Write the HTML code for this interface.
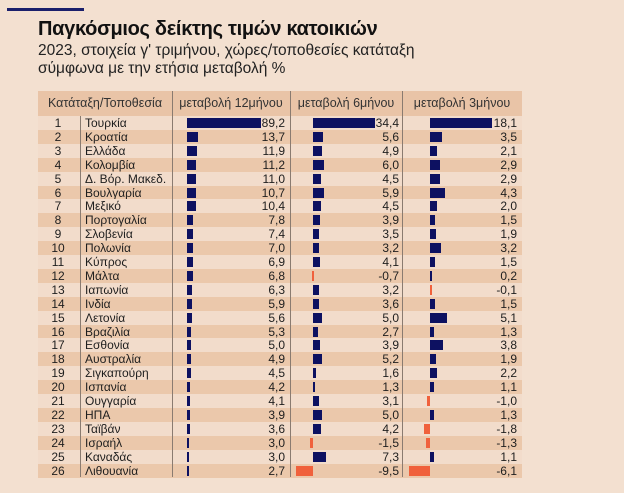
<!DOCTYPE html>
<html><head><meta charset="utf-8">
<style>
html,body{margin:0;padding:0;}
body{width:624px;height:493px;background:#f3e0d0;position:relative;overflow:hidden;font-family:"Liberation Sans","DejaVu Sans",sans-serif;color:#1e1e1e;}
.abs{position:absolute;}
#title{left:38px;top:18px;font-size:20px;font-weight:bold;color:#111;white-space:nowrap;letter-spacing:-0.3px;}
.sub{left:38px;font-size:15.5px;color:#222;white-space:nowrap;}
</style></head>
<body>
<div class="abs" style="left:7px;top:8px;width:77px;height:3px;background:#1a1f6b"></div>
<div id="title" class="abs">Παγκόσμιος δείκτης τιμών κατοικιών</div>
<div class="abs sub" style="top:42px">2023, στοιχεία γ' τριμήνου, χώρες/τοποθεσίες κατάταξη</div>
<div class="abs sub" style="top:60px">σύμφωνα με την ετήσια μεταβολή %</div>
<div id="table" class="abs" style="left:0;top:0;width:624px;height:493px"></div>
<script>
const names=["Τουρκία","Κροατία","Ελλάδα","Κολομβία","Δ. Βόρ. Μακεδ.","Βουλγαρία","Μεξικό","Πορτογαλία","Σλοβενία","Πολωνία","Κύπρος","Μάλτα","Ιαπωνία","Ινδία","Λετονία","Βραζιλία","Εσθονία","Αυστραλία","Σιγκαπούρη","Ισπανία","Ουγγαρία","ΗΠΑ","Ταϊβάν","Ισραήλ","Καναδάς","Λιθουανία"];
const change12=[89.2,13.7,11.9,11.2,11.0,10.7,10.4,7.8,7.4,7.0,6.9,6.8,6.3,5.9,5.6,5.3,5.0,4.9,4.5,4.2,4.1,3.9,3.6,3.0,3.0,2.7];
const change6=[34.4,5.6,4.9,6.0,4.5,5.9,4.5,3.9,3.5,3.2,4.1,-0.7,3.2,3.6,5.0,2.7,3.9,5.2,1.6,1.3,3.1,5.0,4.2,-1.5,7.3,-9.5];
const change3=[18.1,3.5,2.1,2.9,2.9,4.3,2.0,1.5,1.9,3.2,1.5,0.2,-0.1,1.5,5.1,1.3,3.8,1.9,2.2,1.1,-1.0,1.3,-1.8,-1.3,1.1,-6.1];
const headers=["Κατάταξη/Τοποθεσία","μεταβολή 12μήνου","μεταβολή 6μήνου","μεταβολή 3μήνου"];

const T=document.getElementById('table');
const X0=38,X1=522,HY=91,HH=25,RY=116,RH=13.9;
const cols=[
 {data:change12,origin:187,scale:0.83,textR:285,name:'12m'},
 {data:change6,origin:313,scale:1.8,textR:399,name:'6m'},
 {data:change3,origin:430,scale:3.4,textR:517,name:'3m'}];
function xScale(c,v){return c.origin+v*c.scale;}
function mk(tag,style,name){const e=document.createElement(tag);e.setAttribute('style',style);T.appendChild(e);


return e;}
mk('div',`position:absolute;left:${X0}px;top:${HY}px;width:${X1-X0}px;height:${HH}px;background:#e9c4a7`,'header-row');
const hx=[[38,172],[172,290],[290,402],[402,522]];
headers.forEach((h,i)=>{const e=mk('div',`position:absolute;left:${hx[i][0]}px;width:${hx[i][1]-hx[i][0]}px;top:${HY+5}px;text-align:center;font-size:12.5px;color:#333`,'header-'+i);e.textContent=h;});
names.forEach((n,i)=>{
 const y=RY+i*RH;
 mk('div',`position:absolute;left:${X0}px;top:${y}px;width:${X1-X0}px;height:${RH+0.3}px;background:${i%2?'#ebc8ab':'#f2dccb'}`,'row-bg');
 const r=mk('div',`position:absolute;left:38px;width:40px;top:${y}px;text-align:center;font-size:12px;line-height:14px`,'rank-label');r.textContent=i+1;
 const nm=mk('div',`position:absolute;left:85px;top:${y}px;font-size:12px;line-height:14px`,'country-label');nm.textContent=n;
 cols.forEach(c=>{
  const v=c.data[i];
  const a=xScale(c,0),b=xScale(c,v);
  mk('div',`position:absolute;left:${Math.min(a,b)}px;width:${Math.max(Math.abs(b-a),2)}px;top:${y+2}px;height:10px;background:${v<0?'#f0613c':'#0d1161'}`,'bar-'+c.name);
  const t=mk('div',`position:absolute;right:${624-c.textR}px;top:${y}px;font-size:12px;line-height:14px`,'value-'+c.name);
  t.textContent=v.toFixed(1).replace('.',',');
 });
});
const bottom=RY+26*RH;
[[80,RY],[172,HY],[290,HY],[402,HY]].forEach(([x,t])=>{mk('div',`position:absolute;left:${x}px;top:${t}px;width:1px;height:${bottom-t}px;background:#8a7b70`,'column-divider');});
</script>
</body></html>
